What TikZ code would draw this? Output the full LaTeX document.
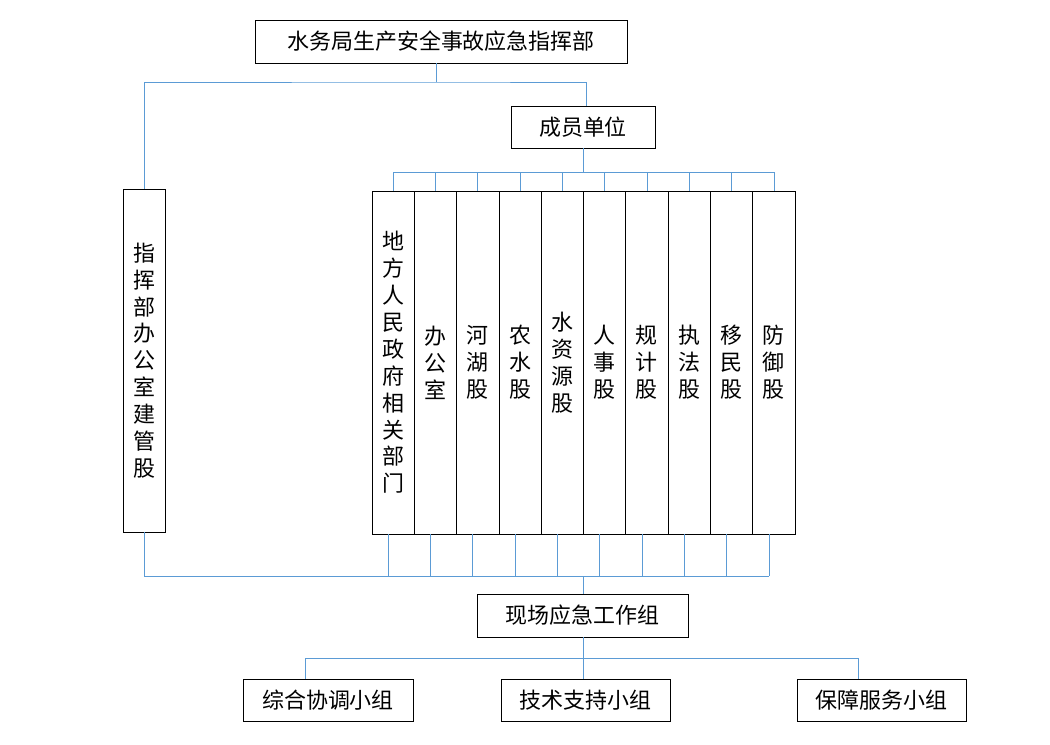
\documentclass[tikz,border=0pt]{standalone}
\usepackage{fontspec}
\setmainfont{Noto Sans CJK SC}
\tikzstyle{box}=[draw=black,thin,fill=white,inner sep=0pt,font=\fontsize{12.5}{15.3}\selectfont]
\tikzstyle{col}=[box,minimum width=0.846cm,minimum height=6.86cm,align=center]
\tikzstyle{wire}=[draw={rgb,255:red,91;green,155;blue,213},thin]
\begin{document}
\begin{tikzpicture}[x=0.02cm,y=-0.02cm]
\useasboundingbox (0,0) rectangle (1050,744);
  %Nodes
  \node[box,minimum width=7.44cm,minimum height=0.86cm] (top) at (441,41.5) {水务局生产安全事故应急指挥部};
  \node[box,minimum width=2.88cm,minimum height=0.84cm] (mem) at (583,127) {成员单位};
  \node[box,minimum width=0.84cm,minimum height=6.86cm,align=center] (off) at (144,360.5)
    {指\\挥\\部\\办\\公\\室\\建\\管\\股};
  \foreach \i/\t in {1/地\\方\\人\\民\\政\\府\\相\\关\\部\\门,2/办\\公\\室,3/河\\湖\\股,4/农\\水\\股,
      5/水\\资\\源\\股,6/人\\事\\股,7/规\\计\\股,8/执\\法\\股,9/移\\民\\股,10/防\\御\\股}
    \node[col] (c\i) at ({372+42.3*(\i-0.5)},362.5) {\t};
  \node[box,minimum width=4.22cm,minimum height=0.86cm] (site) at (582.5,615.5) {现场应急工作组};
  \node[box,minimum width=3.4cm,minimum height=0.84cm] (g1) at (328,700) {综合协调小组};
  \node[box,minimum width=3.38cm,minimum height=0.84cm] (g2) at (585.5,700) {技术支持小组};
  \node[box,minimum width=3.38cm,minimum height=0.84cm] (g3) at (881.5,700) {保障服务小组};
  \coordinate (t0) at (436,82);
  \coordinate (m0) at (583,172);
  \coordinate (b0) at (583,576);
  \coordinate (s0) at (583,658);
  %Lines
  \draw[wire] (top.south -| t0) -- (t0);
  \draw[wire] (off.north) |- (t0) -| (mem.north -| 586,0);
  \draw[wire] (mem.south) -- (m0);
  \foreach \i in {1,...,10} {
    \draw[wire] (c\i.north) |- (m0);
    \draw[wire] ([xshift=-0.1cm]c\i.south) -- ([xshift=-0.1cm]c\i.south |- b0);
  }
  \draw[wire] (off.south) |- ([xshift=-0.1cm]c10.south |- b0);
  \draw[wire] (b0) -- (site.north -| b0);
  \draw[wire] (site.south -| s0) -- (s0);
  \draw[wire] (g1.north -| 305,0) |- (s0) -| (g3.north -| 858,0);
  \draw[wire] (s0) -- (g2.north -| s0);
\end{tikzpicture}
\end{document}
